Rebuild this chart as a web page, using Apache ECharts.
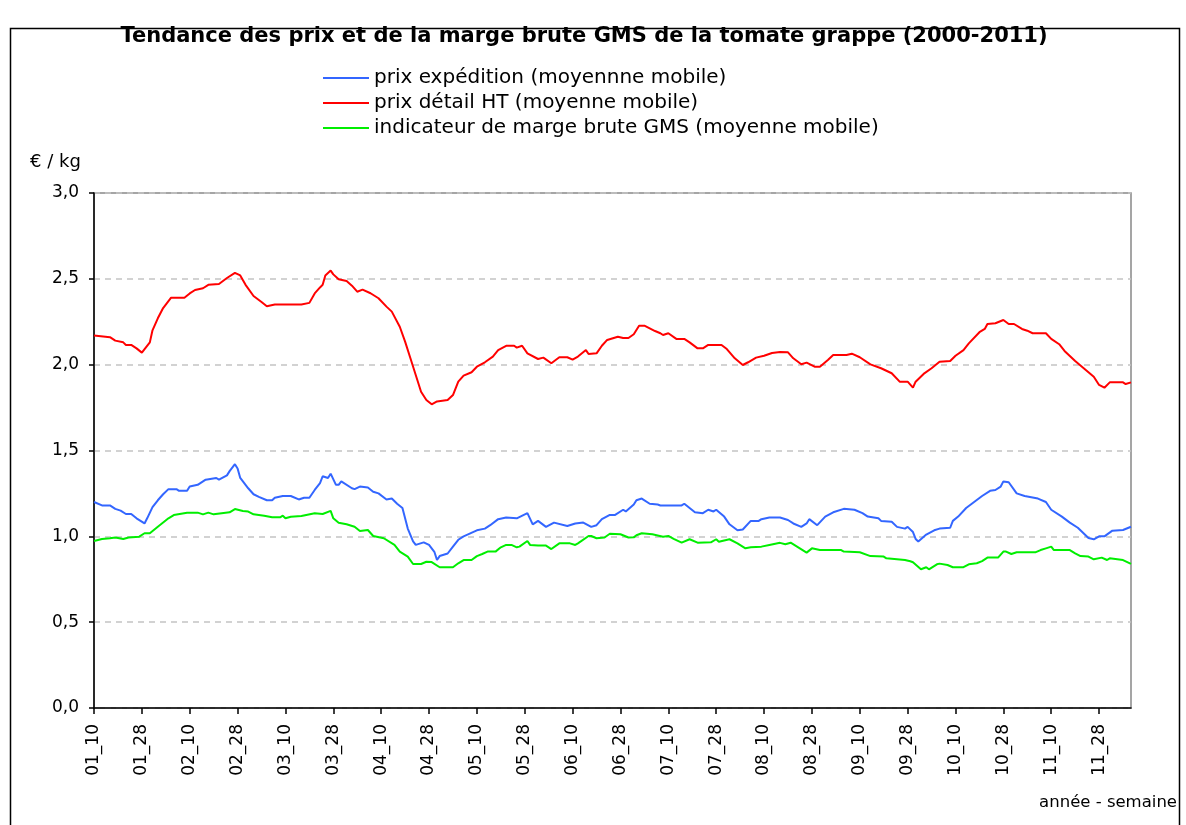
<!DOCTYPE html>
<html>
<head>
<meta charset="utf-8">
<script src="https://cdn.jsdelivr.net/npm/echarts@6/dist/echarts.min.js"></script>
<style>
  html, body { margin: 0; padding: 0; background: #fff; }
  #chart { width: 1186px; height: 825px; }
</style>
</head>
<body>
<div id="chart"></div>
<script>
// weeks 10..45 of each season, 2001 to 2011 (last point 11_40)
const years = ["01", "02", "03", "04", "05", "06", "07", "08", "09", "10", "11"];
const firstWeek = 10;
const weeksPerYear = 36;
const pointCount = 391;
const weekLabels = [];
for (const y of years) {
  for (let w = 0; w < weeksPerYear; w++) {
    weekLabels.push(y + "_" + String(firstWeek + w).padStart(2, "0"));
  }
}
weekLabels.length = pointCount;

const seriesNames = [
  "prix expédition (moyennne mobile)",
  "prix détail HT (moyenne mobile)",
  "indicateur de marge brute GMS (moyenne mobile)",
];

// [week index, €/kg]
const prixExpedition = [
  [0, 1.20], [3, 1.18], [6, 1.18], [8, 1.16], [10, 1.15], [12, 1.13], [14, 1.13], [16, 1.105],
  [19, 1.075], [20, 1.105], [22, 1.17], [24, 1.21], [26, 1.245], [28, 1.275], [31, 1.275], [32, 1.265],
  [35, 1.265], [36, 1.29], [39, 1.30], [42, 1.33], [46, 1.34], [47, 1.33], [50, 1.355], [51, 1.38],
  [53, 1.42], [54, 1.395], [55, 1.34], [58, 1.28], [60, 1.245], [62, 1.23], [65, 1.21], [67, 1.21],
  [68, 1.225], [71, 1.235], [74, 1.235], [77, 1.215], [79, 1.225], [81, 1.225], [83, 1.27], [85, 1.31],
  [86, 1.35], [88, 1.34], [89, 1.365], [91, 1.30], [92, 1.30], [93, 1.32], [97, 1.28], [98, 1.275],
  [100, 1.29], [103, 1.285], [105, 1.26], [107, 1.25], [110, 1.215], [112, 1.22], [114, 1.19], [116, 1.165],
  [118, 1.045], [120, 0.97], [121, 0.95], [124, 0.965], [126, 0.95], [128, 0.91], [129, 0.862], [130, 0.885],
  [133, 0.90], [135, 0.94], [137, 0.98], [139, 1.00], [144, 1.035], [147, 1.045], [149, 1.065], [152, 1.10],
  [155, 1.11], [159, 1.105], [163, 1.135], [165, 1.07], [167, 1.09], [170, 1.055], [173, 1.08], [178, 1.06],
  [181, 1.075], [184, 1.08], [187, 1.055], [189, 1.065], [191, 1.10], [194, 1.125], [196, 1.125], [199, 1.155],
  [200, 1.145], [203, 1.185], [204, 1.21], [206, 1.22], [209, 1.19], [212, 1.185], [213, 1.18], [221, 1.18],
  [222, 1.19], [224, 1.165], [226, 1.14], [229, 1.135], [231, 1.155], [233, 1.145], [234, 1.155], [237, 1.115],
  [239, 1.07], [242, 1.035], [244, 1.04], [247, 1.09], [250, 1.09], [251, 1.10], [254, 1.11], [258, 1.11],
  [261, 1.095], [263, 1.075], [266, 1.055], [268, 1.075], [269, 1.10], [272, 1.065], [275, 1.115], [278, 1.14],
  [282, 1.16], [286, 1.155], [289, 1.135], [291, 1.115], [295, 1.105], [296, 1.09], [300, 1.085], [302, 1.055],
  [305, 1.045], [306, 1.055], [308, 1.025], [309, 0.985], [310, 0.97], [313, 1.01], [316, 1.035], [318, 1.045],
  [322, 1.05], [323, 1.09], [325, 1.115], [328, 1.165], [331, 1.20], [334, 1.235], [337, 1.265], [339, 1.27],
  [341, 1.29], [342, 1.32], [344, 1.315], [347, 1.25], [350, 1.235], [355, 1.22], [358, 1.20], [360, 1.155],
  [364, 1.115], [367, 1.08], [370, 1.05], [374, 0.99], [376, 0.983], [378, 1.00], [380, 1.00], [383, 1.033],
  [387, 1.037], [390, 1.056],
];

const prixDetail = [
  [0, 2.17], [6, 2.16], [8, 2.14], [11, 2.13], [12, 2.115], [14, 2.115], [16, 2.095], [18, 2.07],
  [21, 2.13], [22, 2.20], [24, 2.27], [26, 2.33], [29, 2.39], [34, 2.39], [36, 2.415], [38, 2.435],
  [41, 2.445], [43, 2.465], [47, 2.47], [50, 2.505], [53, 2.535], [55, 2.52], [57, 2.465], [60, 2.40],
  [63, 2.365], [65, 2.34], [68, 2.35], [78, 2.35], [81, 2.36], [83, 2.415], [85, 2.45], [86, 2.465],
  [87, 2.52], [89, 2.548], [90, 2.526], [92, 2.497], [95, 2.487], [97, 2.46], [99, 2.425], [101, 2.437],
  [104, 2.416], [107, 2.387], [110, 2.338], [112, 2.309], [115, 2.221], [117, 2.134], [119, 2.037], [121, 1.94],
  [123, 1.842], [125, 1.794], [127, 1.769], [129, 1.786], [133, 1.794], [135, 1.823], [137, 1.901], [139, 1.936],
  [142, 1.956], [144, 1.988], [147, 2.014], [150, 2.047], [152, 2.085], [155, 2.11], [158, 2.11], [159, 2.099],
  [161, 2.11], [163, 2.066], [167, 2.033], [169, 2.041], [172, 2.008], [175, 2.043], [178, 2.043], [180, 2.029],
  [182, 2.047], [185, 2.085], [186, 2.062], [189, 2.066], [191, 2.11], [193, 2.144], [197, 2.163], [199, 2.155],
  [201, 2.155], [203, 2.177], [205, 2.227], [207, 2.227], [211, 2.196], [213, 2.183], [214, 2.173], [216, 2.183],
  [219, 2.15], [222, 2.15], [224, 2.13], [227, 2.095], [229, 2.095], [231, 2.115], [236, 2.115], [238, 2.091],
  [241, 2.037], [244, 1.998], [246, 2.014], [249, 2.041], [252, 2.052], [255, 2.068], [258, 2.074], [261, 2.072],
  [263, 2.037], [266, 2.002], [268, 2.012], [271, 1.988], [273, 1.988], [276, 2.027], [278, 2.056], [283, 2.056],
  [285, 2.064], [288, 2.043], [292, 2.002], [296, 1.979], [300, 1.95], [303, 1.901], [306, 1.901], [308, 1.866],
  [309, 1.901], [312, 1.946], [315, 1.979], [318, 2.017], [322, 2.021], [324, 2.052], [327, 2.085], [329, 2.124],
  [333, 2.189], [335, 2.208], [336, 2.237], [339, 2.241], [342, 2.26], [344, 2.237], [346, 2.237], [349, 2.208],
  [351, 2.198], [353, 2.183], [358, 2.183], [360, 2.15], [363, 2.119], [365, 2.08], [369, 2.021], [373, 1.969],
  [376, 1.93], [378, 1.882], [380, 1.866], [382, 1.897], [387, 1.897], [388, 1.887], [390, 1.897],
];

const margeBrute = [
  [0, 0.973], [3, 0.985], [6, 0.989], [8, 0.993], [11, 0.985], [13, 0.993], [17, 0.998], [19, 1.018],
  [21, 1.018], [24, 1.056], [28, 1.105], [30, 1.124], [35, 1.138], [39, 1.138], [41, 1.128], [43, 1.138],
  [45, 1.128], [51, 1.14], [53, 1.159], [56, 1.148], [58, 1.144], [60, 1.128], [64, 1.12], [67, 1.111],
  [70, 1.111], [71, 1.12], [72, 1.105], [74, 1.114], [78, 1.118], [83, 1.134], [86, 1.13], [89, 1.148],
  [90, 1.105], [92, 1.079], [95, 1.07], [98, 1.056], [100, 1.031], [103, 1.037], [105, 1.002], [109, 0.989],
  [113, 0.95], [115, 0.911], [118, 0.882], [120, 0.839], [123, 0.839], [125, 0.852], [127, 0.85], [130, 0.82],
  [135, 0.82], [137, 0.843], [139, 0.862], [142, 0.862], [144, 0.885], [146, 0.897], [148, 0.911], [151, 0.911],
  [153, 0.936], [155, 0.95], [157, 0.95], [159, 0.936], [160, 0.94], [163, 0.973], [164, 0.95], [167, 0.946],
  [170, 0.946], [172, 0.926], [175, 0.959], [179, 0.959], [181, 0.95], [182, 0.959], [186, 1.002], [187, 1.002],
  [189, 0.989], [192, 0.993], [194, 1.015], [198, 1.012], [201, 0.993], [203, 0.994], [204, 1.006], [206, 1.018],
  [210, 1.012], [214, 0.998], [216, 1.002], [218, 0.985], [221, 0.963], [224, 0.983], [227, 0.963], [232, 0.965],
  [234, 0.983], [235, 0.969], [239, 0.983], [242, 0.959], [245, 0.93], [247, 0.936], [251, 0.94], [254, 0.95],
  [258, 0.962], [260, 0.954], [262, 0.963], [265, 0.934], [268, 0.905], [270, 0.93], [273, 0.92], [281, 0.92],
  [282, 0.911], [288, 0.907], [292, 0.885], [297, 0.882], [298, 0.872], [305, 0.862], [307, 0.855], [308, 0.849],
  [311, 0.808], [313, 0.82], [314, 0.808], [317, 0.837], [318, 0.841], [321, 0.833], [323, 0.82], [327, 0.82],
  [329, 0.837], [332, 0.843], [334, 0.856], [336, 0.876], [340, 0.876], [342, 0.911], [343, 0.911], [345, 0.897],
  [347, 0.907], [354, 0.907], [356, 0.92], [358, 0.93], [360, 0.94], [361, 0.92], [367, 0.92], [369, 0.901],
  [371, 0.885], [374, 0.882], [376, 0.866], [379, 0.876], [381, 0.862], [382, 0.872], [387, 0.862], [390, 0.839],
];

const seriesColors = ["#3366ff", "#ff0000", "#00ee00"];
const font = "DejaVu Sans, Verdana, sans-serif";

function toPoints(list) {
  return list.map(([i, v]) => [weekLabels[i], v]);
}

const chart = echarts.init(document.getElementById("chart"), null, { renderer: "canvas" });

chart.setOption({
  animation: false,
  backgroundColor: "#fff",
  textStyle: { fontFamily: font, color: "#000" },
  graphic: [
    {
      type: "rect",
      shape: { x: 10.5, y: 28.5, width: 1169, height: 830 },
      style: { fill: null, stroke: "#000", lineWidth: 1.5 },
      silent: true,
    },
    {
      type: "text",
      x: 584,
      y: 37,
      style: {
        text: "Tendance des prix et de la marge brute GMS de la tomate grappe (2000-2011)",
        font: "bold 21px " + font,
        fill: "#000",
        textAlign: "center",
        textVerticalAlign: "middle",
      },
    },
    {
      type: "text",
      x: 30,
      y: 162,
      style: {
        text: "€ / kg",
        font: "18px " + font,
        fill: "#000",
        textVerticalAlign: "middle",
      },
    },
    {
      type: "text",
      x: 1177,
      y: 803,
      style: {
        text: "année - semaine",
        font: "16.5px " + font,
        fill: "#000",
        textAlign: "right",
        textVerticalAlign: "middle",
      },
    },
  ],
  legend: {
    orient: "vertical",
    left: 318,
    top: 63,
    itemWidth: 46,
    itemHeight: 20,
    itemGap: 5,
    icon: "path://M0,9 L46,9 L46,11 L0,11 Z",
    textStyle: { fontSize: 20, lineHeight: 20, color: "#000", fontFamily: font },
    data: seriesNames,
  },
  grid: {
    left: 94,
    top: 193,
    right: 55,
    bottom: 117,
    show: true,
    borderColor: "#888",
    borderWidth: 1.5,
    containLabel: false,
  },
  xAxis: {
    type: "category",
    data: weekLabels,
    boundaryGap: false,
    axisLine: { show: true, lineStyle: { color: "#000", width: 1.5 } },
    axisTick: {
      show: true,
      length: 6,
      interval: (i) => i % 18 === 0,
      lineStyle: { color: "#000", width: 1.5 },
    },
    axisLabel: {
      interval: (i) => i % 18 === 0,
      rotate: 90,
      margin: 16,
      fontSize: 17,
      color: "#000",
      fontFamily: font,
    },
    splitLine: { show: false },
  },
  yAxis: {
    type: "value",
    min: 0,
    max: 3,
    interval: 0.5,
    axisLine: { show: true, lineStyle: { color: "#000", width: 1.5 } },
    axisTick: { show: true, length: 5, lineStyle: { color: "#000", width: 1.5 } },
    axisLabel: {
      formatter: (v) => v.toFixed(1).replace(".", ","),
      fontSize: 17,
      margin: 15,
      color: "#000",
      fontFamily: font,
    },
    splitLine: {
      show: true,
      lineStyle: { color: "#c4c4c4", type: [6, 5], width: 1.5 },
    },
  },
  series: [
    { name: seriesNames[0], data: toPoints(prixExpedition), color: seriesColors[0] },
    { name: seriesNames[1], data: toPoints(prixDetail), color: seriesColors[1] },
    { name: seriesNames[2], data: toPoints(margeBrute), color: seriesColors[2] },
  ].map((s) => ({
    type: "line",
    name: s.name,
    data: s.data,
    symbol: "none",
    showSymbol: false,
    smooth: false,
    itemStyle: { color: s.color },
    lineStyle: { color: s.color, width: 2 },
  })),
});
</script>
</body>
</html>
